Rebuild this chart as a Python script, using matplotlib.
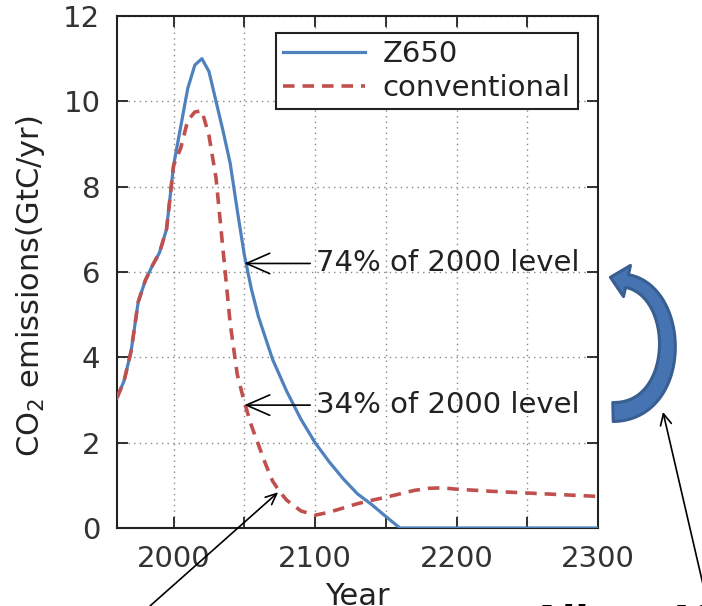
import matplotlib
matplotlib.use("Agg")
import numpy as np
import matplotlib.pyplot as plt
from matplotlib.patches import FancyArrowPatch, Polygon
from matplotlib.ticker import MultipleLocator, FuncFormatter

# ---- data ----
z650_years = [1960, 1965, 1970, 1975, 1980, 1985, 1990, 1995, 2000, 2005, 2010,
              2015, 2020, 2025, 2030, 2035, 2040, 2045, 2050, 2055, 2060, 2070,
              2080, 2090, 2100, 2110, 2120, 2130, 2140, 2150, 2160, 2300]
z650_vals = [3.05, 3.45, 4.15, 5.3, 5.8, 6.15, 6.45, 7.0, 8.5, 9.4, 10.3,
             10.85, 11.0, 10.7, 10.0, 9.3, 8.55, 7.45, 6.4, 5.6, 4.95, 3.95,
             3.2, 2.55, 2.0, 1.55, 1.15, 0.8, 0.55, 0.27, 0.0, 0.0]

conv_years = [1960, 1965, 1970, 1975, 1980, 1985, 1990, 1995, 2000, 2005, 2010,
              2015, 2020, 2025, 2030, 2035, 2040, 2045, 2050, 2055, 2060, 2065,
              2070, 2075, 2080, 2090, 2100, 2110, 2120, 2130, 2140, 2150, 2160,
              2170, 2180, 2190, 2200, 2225, 2250, 2275, 2300]
conv_vals = [3.05, 3.45, 4.15, 5.3, 5.8, 6.15, 6.45, 7.0, 8.5, 8.9, 9.55,
             9.75, 9.78, 9.2, 8.2, 6.5, 4.8, 3.6, 2.95, 2.4, 1.95, 1.5,
             1.1, 0.85, 0.65, 0.4, 0.3, 0.37, 0.47, 0.57, 0.65, 0.72, 0.8,
             0.88, 0.93, 0.94, 0.91, 0.86, 0.82, 0.78, 0.74]

series_labels = ["Z650", "conventional"]
annot_74 = "74% of 2000 level"
annot_34 = "34% of 2000 level"
bottom_note = "Allow 40%"

W, H = 702, 606
fig = plt.figure(figsize=(W / 100, H / 100), dpi=100)
ax = fig.add_axes([117 / W, 1 - 528 / H, (598 - 117) / W, (528 - 16) / H])

blue = "#4f81bd"
red = "#c0504d"
ink = "#222222"

ax.plot(z650_years, z650_vals, color=blue, lw=2.3, label=series_labels[0], zorder=3)
ax.plot(conv_years, conv_vals, color=red, lw=2.6, ls=(0, (3.2, 2.2)),
        label=series_labels[1], zorder=4)

ax.set_xlim(1960, 2300)
ax.set_ylim(0, 12)
ax.xaxis.set_major_locator(MultipleLocator(50))
ax.xaxis.set_major_formatter(FuncFormatter(lambda v, p: f"{int(v)}" if int(v) % 100 == 0 else ""))
ax.yaxis.set_major_locator(MultipleLocator(2))
ax.grid(True, color="#888888", ls=(0, (1, 3)), lw=1.0)
ax.tick_params(direction="in", length=8, width=1.3, top=True, right=True,
               labelsize=21, colors=ink, labelcolor="#333333")
ax.tick_params(axis="x", pad=12)
ax.tick_params(axis="y", pad=12)
for s in ax.spines.values():
    s.set_linewidth(1.5)
    s.set_color(ink)

ax.set_ylabel("CO$_2$ emissions(GtC/yr)", fontsize=22, color=ink)
ax.yaxis.set_label_coords(-0.145, 0.472)
ax.set_xlabel("Year", fontsize=22, color=ink)
ax.xaxis.set_label_coords(0.5, -0.105)

leg = ax.legend(loc="upper right", bbox_to_anchor=(0.958, 0.967), borderaxespad=0,
                fontsize=21, fancybox=False, framealpha=1, edgecolor=ink,
                handlelength=2.8, handletextpad=0.6, labelspacing=0.2, borderpad=0.25)
leg.get_frame().set_linewidth(1.5)
for t in leg.get_texts():
    t.set_color(ink)

arr = dict(arrowstyle="->,head_length=0.8,head_width=0.35", color="black", lw=1.2,
           shrinkA=2, shrinkB=0)
ax.annotate(annot_74, xy=(2050, 6.2), xytext=(2100.5, 6.2), va="center", ha="left",
            fontsize=21, color=ink, arrowprops=arr, zorder=6)
ax.annotate(annot_34, xy=(2050, 2.88), xytext=(2100.5, 2.88), va="center", ha="left",
            fontsize=21, color=ink, arrowprops=arr, zorder=6)

# arrow from lower-left pointing to the conventional curve
ax.annotate("", xy=(2074, 0.84), xytext=(150, 0), textcoords="figure pixels",
            arrowprops=dict(arrowstyle="->,head_length=0.8,head_width=0.35",
                            color="black", lw=1.2, shrinkA=0, shrinkB=0),
            annotation_clip=False)


def fp(x, y_img):
    return (x / W, 1 - y_img / H)


# big curved blue arrow (decorative shape built in image pixel space)
P = np.array([[613, 412], [683, 412], [683, 292], [627, 281]], float)
t = np.linspace(0, 1, 80)[:, None]
curve = ((1 - t) ** 3) * P[0] + 3 * ((1 - t) ** 2) * t * P[1] + 3 * (1 - t) * t ** 2 * P[2] + t ** 3 * P[3]
d = np.gradient(curve, axis=0)
d /= np.linalg.norm(d, axis=1)[:, None]
nrm = np.column_stack([-d[:, 1], d[:, 0]])
half = (9.5 - 3.0 * t[:, 0])[:, None]
left = curve + nrm * half
right = curve - nrm * half
end_dir = d[-1]
end_n = nrm[-1]
tip = curve[-1] + end_dir * 17
hb1 = curve[-1] + end_n * 16
hb2 = curve[-1] - end_n * 16
shape = np.vstack([left, hb1, tip, hb2, right[::-1]])
shape_fig = np.column_stack([shape[:, 0] / W, 1 - shape[:, 1] / H])
fig.add_artist(Polygon(shape_fig, closed=True, transform=fig.transFigure,
                       facecolor="#4674b2", edgecolor="#385e92", lw=2.2,
                       joinstyle="round", zorder=10))

# thin arrow pointing at the big arrow
fig.add_artist(FancyArrowPatch(fp(708, 606), fp(663, 412), transform=fig.transFigure,
                               arrowstyle="->,head_length=8,head_width=4",
                               color="black", lw=1.2, mutation_scale=1,
                               shrinkA=0, shrinkB=0))

fig.text(532 / W, 1 - 603.5 / H, bottom_note, fontsize=28, color="black",
         va="top", ha="left", fontweight="bold")

fig.savefig("out.png", dpi=100)
